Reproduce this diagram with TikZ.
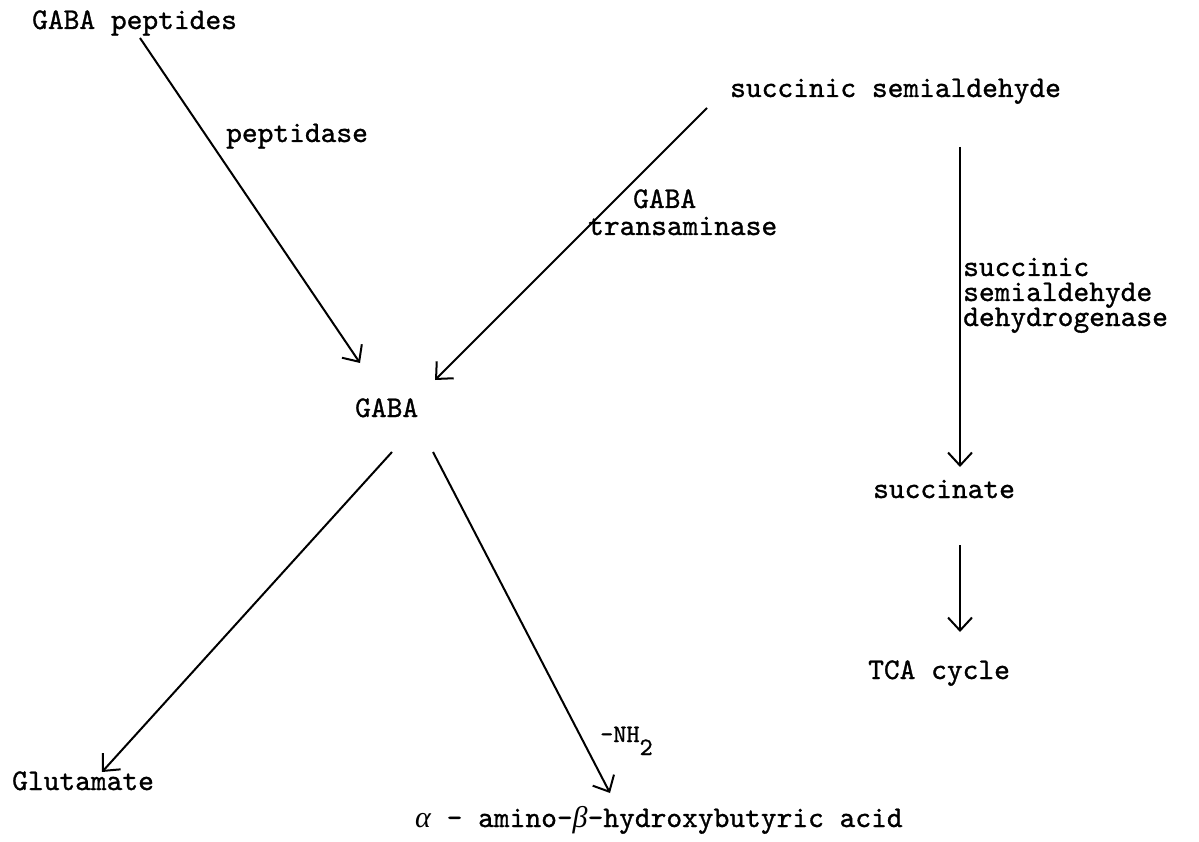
\documentclass[tikz,border=0pt]{standalone}
\usepackage{fontspec}
\usetikzlibrary{arrows.meta}
\newfontfamily\grk{Liberation Serif}
\newfontfamily\tw{lmmono10-regular}[Extension=.otf,FakeBold=1]
\begin{document}
\begin{tikzpicture}[x=1pt,y=-1pt,
  lbl/.style={anchor=base west,inner sep=0pt,font=\fontsize{30}{30}\tw\selectfont},
  arr/.style={line width=2pt,-{Straight Barb[length=13pt,width=24pt,line width=2pt]}}]
\useasboundingbox (0,0) rectangle (1199,842);
% nodes
\node[lbl] (pep)  at (32,29)  {GABA peptides};
\node[lbl] (ssa)  at (730,97) {succinic semialdehyde};
\node[lbl] (gaba) at (355,417) {GABA};
\node[lbl] (succ) at (873,498) {succinate};
\node[lbl] (tca)  at (868,679) {TCA cycle};
\node[lbl] (glu)  at (12,790) {Glutamate};
\node[lbl] (ahb)  at (415,827) {{\grk\itshape α} - amino-{\grk\itshape β}-hydroxybutyric acid};
% enzyme labels
\node[lbl] (pdase) at (226,142) {peptidase};
\node[lbl] (gt1) at (633,208) {GABA};
\node[lbl] (gt2) at (588,235) {transaminase};
\node[lbl] (ssd1) at (963,276) {succinic};
\node[lbl] (ssd2) at (963,301) {semialdehyde};
\node[lbl] (ssd3) at (963,326) {dehydrogenase};
\node[lbl,font=\fontsize{25}{25}\tw\selectfont] (nh2) at (600,742) {-NH\raisebox{-13pt}{2}};
% connectors
\draw[arr] ([shift={(108,9)}]pep.base west) -- ([shift={(5,-54)}]gaba.base west);
\draw[arr] ([shift={(-23,11)}]ssa.base west) -- ([shift={(80,-37)}]gaba.base west);
\draw[arr] ([shift={(230,50)}]ssa.base west) -- ([shift={(87,-31)}]succ.base west);
\draw[arr] ([shift={(87,47)}]succ.base west) -- ([shift={(92,-47)}]tca.base west);
\draw[arr] ([shift={(37,35)}]gaba.base west) -- ([shift={(90,-18)}]glu.base west);
\draw[arr] ([shift={(78,35)}]gaba.base west) -- ([shift={(195,-34)}]ahb.base west);
\end{tikzpicture}
\end{document}
